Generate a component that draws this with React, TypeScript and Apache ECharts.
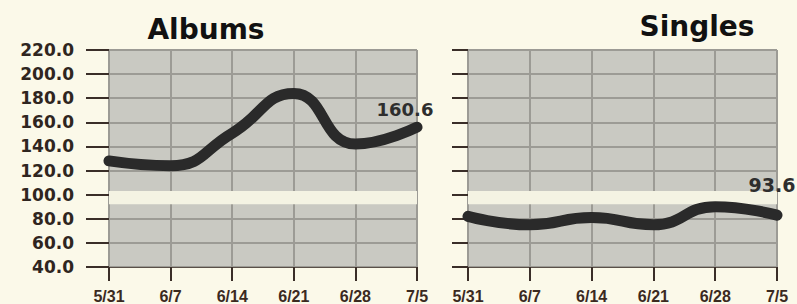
import React, { useEffect, useRef } from 'react';
import * as echarts from 'echarts';

const weeks = ['5/31', '6/7', '6/14', '6/21', '6/28', '7/5'];
const albums = [128, 124, 151, 184, 142, 156];
const singles = [82, 75, 81, 75, 90, 83];
const albumsLastLabel = '160.6';
const singlesLastLabel = '93.6';
const titles = ['Albums', 'Singles'];
const yMin = 40;
const yMax = 220;
const yStep = 20;
const band = [92, 103];

const BG = '#fbf9e9';
const PLOT = '#c9c9c2';
const GRIDC = '#9c9b95';
const INK = '#2f2520';
const LINE = '#2a2a2a';

export default function App() {
  const ref = useRef<HTMLDivElement>(null);
  useEffect(() => {
    if (!ref.current) return;
    document.body.style.margin = '0';
    document.body.style.background = BG;
    const chart = echarts.init(ref.current, undefined, { renderer: 'svg' });
    const grids = [
      { left: 109, top: 50, width: 308, height: 218 },
      { left: 468, top: 50, width: 309, height: 218 },
    ];
    const xAxis = grids.map((_, i) => ({
      type: 'category',
      gridIndex: i,
      data: weeks,
      boundaryGap: false,
      axisLine: { show: true, lineStyle: { color: '#5a5048', width: 1 } },
      axisTick: { show: true, length: 14, lineStyle: { color: '#3a2e28', width: 2 } },
      axisLabel: {
        interval: 0,
        margin: 21,
        fontSize: 16,
        fontWeight: 'bold',
        fontFamily: 'Liberation Sans',
        color: '#3b2a1f',
      },
      splitLine: { show: true, lineStyle: { color: GRIDC, width: 2 } },
    }));
    const yAxis = grids.map((_, i) => ({
      type: 'value',
      gridIndex: i,
      min: yMin,
      max: yMax,
      interval: yStep,
      axisLine: { show: false },
      axisTick: { show: true, length: i === 0 ? 23 : 16, lineStyle: { color: '#3a2e28', width: 2 } },
      axisLabel: {
        show: i === 0,
        formatter: (v: number) => v.toFixed(1),
        margin: 35,
        fontSize: 17,
        fontWeight: 'bold',
        fontFamily: 'DejaVu Sans',
        color: INK,
      },
      splitLine: { show: true, lineStyle: { color: GRIDC, width: 2 } },
    }));
    const mkSeries = (data: number[], idx: number, label: string, offset: number[], fs: number) => ({
      type: 'line',
      xAxisIndex: idx,
      yAxisIndex: idx,
      data,
      smooth: 0.5,
      symbol: 'none',
      lineStyle: { color: LINE, width: 11, cap: 'round' },
      markArea: {
        silent: true,
        itemStyle: { color: '#f4f3e3' },
        data: [[{ yAxis: band[0] }, { yAxis: band[1] }]],
      },
      markPoint: {
        silent: true,
        symbol: 'circle',
        symbolSize: 0,
        data: [
          {
            coord: [weeks.length - 1, data[data.length - 1]],
            label: {
              show: true,
              position: 'inside',
              formatter: () => label,
              offset,
              fontSize: fs,
              fontWeight: 'bold',
              fontFamily: 'DejaVu Sans',
              color: '#2e2e2e',
            },
          },
        ],
      },
    });
    chart.setOption({
      animation: false,
      backgroundColor: BG,
      grid: grids.map((g) => ({ ...g, show: true, backgroundColor: PLOT, borderWidth: 0 })),
      xAxis,
      yAxis,
      series: [
        mkSeries(albums, 0, albumsLastLabel, [-12, -18], 18),
        mkSeries(singles, 1, singlesLastLabel, [-5, -30], 19),
      ],
      graphic: [
        {
          type: 'text',
          x: 206,
          y: 29,
          style: {
            text: titles[0],
            fontSize: 28,
            fontWeight: 'bold',
            fontFamily: 'DejaVu Sans',
            fill: '#111',
            textAlign: 'center',
            textVerticalAlign: 'middle',
          },
        },
        {
          type: 'text',
          x: 697,
          y: 26,
          style: {
            text: titles[1],
            fontSize: 28,
            fontWeight: 'bold',
            fontFamily: 'DejaVu Sans',
            fill: '#111',
            textAlign: 'center',
            textVerticalAlign: 'middle',
          },
        },
      ],
    });
    return () => chart.dispose();
  }, []);
  return (
    <div
      ref={ref}
      style={{ position: 'fixed', left: 0, top: 0, width: 797, height: 304, background: BG }}
    />
  );
}
